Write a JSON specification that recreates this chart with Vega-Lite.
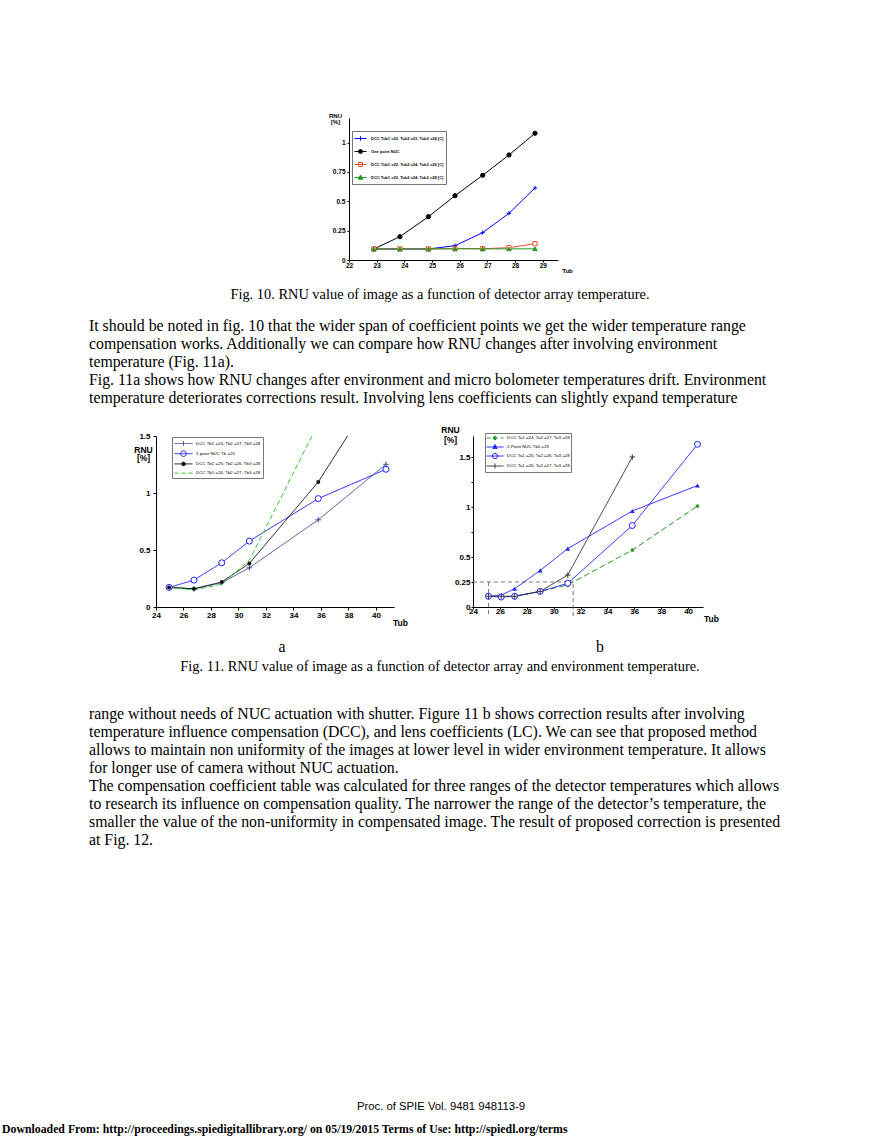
{
  "$schema": "https://vega.github.io/schema/vega-lite/v6.json",
  "background": "white",
  "padding": {"left": 2, "top": 112, "right": 0, "bottom": 0},
  "config": {
    "view": {"stroke": null},
    "axis": {"domainColor": "black", "tickColor": "black", "labelColor": "black", "titleColor": "black", "grid": false, "labelFont": "Liberation Sans", "titleFont": "Liberation Sans", "labelFontWeight": "bold", "titleFontWeight": "bold", "domainWidth": 1, "tickWidth": 1, "labelOverlap": false, "labelFlush": false}
  },
  "spacing": 0,
  "resolve": {"scale": {"color": "independent", "fill": "independent", "shape": "independent", "strokeDash": "independent", "size": "independent"}},
  "vconcat": [
    {
      "hconcat": [
        {"width": 347, "height": 1, "data": {"values": []}, "mark": {"type": "point", "opacity": 0}, "encoding": {}},
        {
          "width": 209, "height": 142,
          "data": {"values": [
            {"s": "One point NUC", "x": 22.9, "y": 0.094}, {"s": "One point NUC", "x": 23.84, "y": 0.199}, {"s": "One point NUC", "x": 24.87, "y": 0.369}, {"s": "One point NUC", "x": 25.83, "y": 0.548}, {"s": "One point NUC", "x": 26.83, "y": 0.722}, {"s": "One point NUC", "x": 27.78, "y": 0.895}, {"s": "One point NUC", "x": 28.72, "y": 1.08},
            {"s": "DCC Tub1 =22, Tub2 =23, Tub3 =24 [C]", "x": 22.9, "y": 0.094}, {"s": "DCC Tub1 =22, Tub2 =23, Tub3 =24 [C]", "x": 23.84, "y": 0.094}, {"s": "DCC Tub1 =22, Tub2 =23, Tub3 =24 [C]", "x": 24.87, "y": 0.094}, {"s": "DCC Tub1 =22, Tub2 =23, Tub3 =24 [C]", "x": 25.83, "y": 0.122}, {"s": "DCC Tub1 =22, Tub2 =23, Tub3 =24 [C]", "x": 26.83, "y": 0.233}, {"s": "DCC Tub1 =22, Tub2 =23, Tub3 =24 [C]", "x": 27.78, "y": 0.398}, {"s": "DCC Tub1 =22, Tub2 =23, Tub3 =24 [C]", "x": 28.72, "y": 0.614},
            {"s": "DCC Tub1 =22, Tub2 =24, Tub3 =26 [C]", "x": 22.9, "y": 0.094}, {"s": "DCC Tub1 =22, Tub2 =24, Tub3 =26 [C]", "x": 23.84, "y": 0.094}, {"s": "DCC Tub1 =22, Tub2 =24, Tub3 =26 [C]", "x": 24.87, "y": 0.094}, {"s": "DCC Tub1 =22, Tub2 =24, Tub3 =26 [C]", "x": 25.83, "y": 0.096}, {"s": "DCC Tub1 =22, Tub2 =24, Tub3 =26 [C]", "x": 26.83, "y": 0.096}, {"s": "DCC Tub1 =22, Tub2 =24, Tub3 =26 [C]", "x": 27.78, "y": 0.105}, {"s": "DCC Tub1 =22, Tub2 =24, Tub3 =26 [C]", "x": 28.72, "y": 0.139},
            {"s": "DCC Tub1 =22, Tub2 =24, Tub3 =28 [C]", "x": 22.9, "y": 0.094}, {"s": "DCC Tub1 =22, Tub2 =24, Tub3 =28 [C]", "x": 23.84, "y": 0.094}, {"s": "DCC Tub1 =22, Tub2 =24, Tub3 =28 [C]", "x": 24.87, "y": 0.094}, {"s": "DCC Tub1 =22, Tub2 =24, Tub3 =28 [C]", "x": 25.83, "y": 0.097}, {"s": "DCC Tub1 =22, Tub2 =24, Tub3 =28 [C]", "x": 26.83, "y": 0.095}, {"s": "DCC Tub1 =22, Tub2 =24, Tub3 =28 [C]", "x": 27.78, "y": 0.095}, {"s": "DCC Tub1 =22, Tub2 =24, Tub3 =28 [C]", "x": 28.72, "y": 0.095}
          ]},
          "layer": [
            {
              "mark": {"type": "line", "strokeWidth": 1},
              "encoding": {
                "x": {"field": "x", "type": "quantitative", "scale": {"domain": [22, 29.55], "nice": false, "zero": false},
                  "axis": {"values": [22, 23, 24, 25, 26, 27, 28, 29], "tickCount": 50, "format": "d", "labelFontSize": 6.5, "tickSize": 2, "labelPadding": 0, "title": "Tub", "titleX": 218, "titleY": 10, "titleAlign": "center", "titleBaseline": "middle", "titleFontSize": 6}},
                "y": {"field": "y", "type": "quantitative", "scale": {"domain": [0, 1.21], "nice": false},
                  "axis": {"values": [0, 0.25, 0.5, 0.75, 1], "tickCount": 50, "format": "~g", "labelFontSize": 6.5, "tickSize": 2, "labelPadding": 2, "title": ["RNU", "[%]"], "titleAngle": 0, "titleX": -14, "titleY": -3, "titleAlign": "center", "titleBaseline": "middle", "titleFontSize": 6, "titleLineHeight": 6}},
                "color": {"field": "s", "type": "nominal",
                  "scale": {"domain": ["DCC Tub1 =22, Tub2 =23, Tub3 =24 [C]", "One point NUC", "DCC Tub1 =22, Tub2 =24, Tub3 =26 [C]", "DCC Tub1 =22, Tub2 =24, Tub3 =28 [C]"], "range": ["#0000ff", "#000000", "#e8502a", "#1f9a1f"]},
                  "legend": {"title": null, "orient": "none", "legendX": 3, "legendY": 13, "strokeColor": "#777777", "fillColor": "white", "padding": 2, "symbolSize": 100, "symbolStrokeWidth": 1, "labelFont": "Liberation Sans", "labelFontWeight": "bold", "labelFontSize": 4, "labelOffset": 6, "rowPadding": 3, "labelLimit": 300,
                    "encode": {"symbols": {"update": {
                      "shape": {"signal": "['M-1,0L1.4,0M0.2,-0.45L0.2,0.45','M-1,0L1.4,0M-0.2,0A0.4,0.4,0,1,1,0.6,0A0.4,0.4,0,1,1,-0.2,0','M-1,0L1.4,0M-0.2,-0.4L0.6,-0.4L0.6,0.4L-0.2,0.4Z','M-1,0L1.4,0M0.2,-0.5L0.65,0.35L-0.25,0.35Z'][indexof(['DCC Tub1 =22, Tub2 =23, Tub3 =24 [C]','One point NUC','DCC Tub1 =22, Tub2 =24, Tub3 =26 [C]','DCC Tub1 =22, Tub2 =24, Tub3 =28 [C]'], datum.value)]"},
                      "fill": {"signal": "['white','#000000','white','#1f9a1f'][indexof(['DCC Tub1 =22, Tub2 =23, Tub3 =24 [C]','One point NUC','DCC Tub1 =22, Tub2 =24, Tub3 =26 [C]','DCC Tub1 =22, Tub2 =24, Tub3 =28 [C]'], datum.value)]"}
                    }}}}
                }
              }
            },
            {
              "mark": {"type": "point", "filled": false, "strokeWidth": 1, "opacity": 1, "size": 18},
              "encoding": {
                "x": {"field": "x", "type": "quantitative"},
                "y": {"field": "y", "type": "quantitative"},
                "color": {"field": "s", "type": "nominal"},
                "shape": {"field": "s", "type": "nominal", "legend": null,
                  "scale": {"domain": ["DCC Tub1 =22, Tub2 =24, Tub3 =28 [C]", "DCC Tub1 =22, Tub2 =24, Tub3 =26 [C]", "One point NUC", "DCC Tub1 =22, Tub2 =23, Tub3 =24 [C]"], "range": ["triangle-up", "square", "circle", "M-1,0L1,0M0,-1L0,1"]}},
                "fill": {"field": "s", "type": "nominal", "legend": null,
                  "scale": {"domain": ["DCC Tub1 =22, Tub2 =24, Tub3 =28 [C]", "DCC Tub1 =22, Tub2 =24, Tub3 =26 [C]", "One point NUC", "DCC Tub1 =22, Tub2 =23, Tub3 =24 [C]"], "range": ["#1f9a1f", "white", "#000000", "#0000ff"]}}
              }
            }
          ]
        }
      ],
      "spacing": 0, "bounds": "flush",
      "resolve": {"scale": {"color": "independent", "fill": "independent", "shape": "independent", "strokeDash": "independent", "size": "independent"}}
    },
    {
      "hconcat": [
        {"width": 87, "height": 1, "data": {"values": []}, "mark": {"type": "point", "opacity": 0}, "encoding": {}},
        {"width": 702, "height": 44,
          "data": {"values": [{"text": "Fig. 10. RNU value of image as a function of detector array temperature."}]},
          "mark": {"type": "text", "font": "Liberation Serif", "fontSize": 14.4, "color": "black"},
          "encoding": {"text": {"field": "text"}}}
      ],
      "spacing": 0, "bounds": "flush"
    },
    {
      "hconcat": [
        {"width": 87, "height": 1, "data": {"values": []}, "mark": {"type": "point", "opacity": 0}, "encoding": {}},
        {"width": 702, "height": 90,
          "data": {"values": [
            {"line": 1, "text": "It should be noted in fig. 10 that the wider span of coefficient points we get the wider temperature range"},
            {"line": 2, "text": "compensation works. Additionally we can compare how RNU changes after involving environment"},
            {"line": 3, "text": "temperature (Fig. 11a)."},
            {"line": 4, "text": "Fig. 11a shows how RNU changes after environment and micro bolometer temperatures drift. Environment"},
            {"line": 5, "text": "temperature deteriorates corrections result. Involving lens coefficients can slightly expand temperature"}
          ]},
          "mark": {"type": "text", "align": "left", "baseline": "middle", "font": "Liberation Serif", "fontSize": 15.8, "color": "black"},
          "encoding": {
            "x": {"datum": 0, "type": "quantitative", "scale": {"domain": [0, 1]}, "axis": null},
            "y": {"field": "line", "type": "ordinal", "axis": null, "scale": {"type": "point", "padding": 0.5, "align": 0.5}},
            "text": {"field": "text"}
          }}
      ],
      "spacing": 0, "bounds": "flush"
    },
    {"width": 1, "height": 18, "data": {"values": []}, "mark": {"type": "point", "opacity": 0}, "encoding": {}},
    {
      "hconcat": [
        {"width": 154, "height": 1, "data": {"values": []}, "mark": {"type": "point", "opacity": 0}, "encoding": {}},
        {
          "width": 238, "height": 171,
          "title": {"text": "a", "orient": "bottom", "anchor": "middle", "frame": "group", "dx": 7, "offset": 13.3, "font": "Liberation Serif", "fontSize": 15.8, "fontWeight": "normal", "color": "black"},
          "data": {"values": [
            {"s": "DCC Tb1 =24, Tb2 =27, Tb3 =28", "x": 24.95, "y": 0.172}, {"s": "DCC Tb1 =24, Tb2 =27, Tb3 =28", "x": 26.76, "y": 0.158}, {"s": "DCC Tb1 =24, Tb2 =27, Tb3 =28", "x": 28.78, "y": 0.213}, {"s": "DCC Tb1 =24, Tb2 =27, Tb3 =28", "x": 30.79, "y": 0.344}, {"s": "DCC Tb1 =24, Tb2 =27, Tb3 =28", "x": 35.8, "y": 0.765}, {"s": "DCC Tb1 =24, Tb2 =27, Tb3 =28", "x": 40.73, "y": 1.252},
            {"s": "2 point NUC Tb =25", "x": 24.95, "y": 0.172}, {"s": "2 point NUC Tb =25", "x": 26.76, "y": 0.236}, {"s": "2 point NUC Tb =25", "x": 28.78, "y": 0.388}, {"s": "2 point NUC Tb =25", "x": 30.79, "y": 0.578}, {"s": "2 point NUC Tb =25", "x": 35.8, "y": 0.951}, {"s": "2 point NUC Tb =25", "x": 40.73, "y": 1.208},
            {"s": "DCC Tb1 =25, Tb2 =26, Tb3 =28", "x": 24.95, "y": 0.172}, {"s": "DCC Tb1 =25, Tb2 =26, Tb3 =28", "x": 26.76, "y": 0.16}, {"s": "DCC Tb1 =25, Tb2 =26, Tb3 =28", "x": 28.78, "y": 0.219}, {"s": "DCC Tb1 =25, Tb2 =26, Tb3 =28", "x": 30.79, "y": 0.382}, {"s": "DCC Tb1 =25, Tb2 =26, Tb3 =28", "x": 35.8, "y": 1.097}, {"s": "DCC Tb1 =25, Tb2 =26, Tb3 =28", "x": 40.73, "y": 2.03},
            {"s": "DCC Tb1 =26, Tb2 =27, Tb3 =28", "x": 24.95, "y": 0.172}, {"s": "DCC Tb1 =26, Tb2 =27, Tb3 =28", "x": 26.76, "y": 0.149}, {"s": "DCC Tb1 =26, Tb2 =27, Tb3 =28", "x": 28.78, "y": 0.2}, {"s": "DCC Tb1 =26, Tb2 =27, Tb3 =28", "x": 30.79, "y": 0.41}, {"s": "DCC Tb1 =26, Tb2 =27, Tb3 =28", "x": 35.8, "y": 1.61}
          ]},
          "layer": [
            {
              "mark": {"type": "line", "strokeWidth": 1, "clip": true},
              "encoding": {
                "x": {"field": "x", "type": "quantitative", "scale": {"domain": [24, 41.31], "nice": false, "zero": false},
                  "axis": {"values": [24, 26, 28, 30, 32, 34, 36, 38, 40], "tickCount": 50, "format": "d", "labelFontSize": 8, "tickSize": 3, "labelPadding": 1, "title": "Tub", "titleX": 244, "titleY": 15, "titleAlign": "center", "titleBaseline": "middle", "titleFontSize": 8.5}},
                "y": {"field": "y", "type": "quantitative", "scale": {"domain": [0, 1.5], "nice": false},
                  "axis": {"values": [0, 0.5, 1, 1.5], "tickCount": 50, "format": "~g", "labelFontSize": 8, "tickSize": 3, "labelPadding": 3, "title": ["RNU", "[%]"], "titleAngle": 0, "titleX": -13, "titleY": 13, "titleAlign": "center", "titleBaseline": "middle", "titleFontSize": 8.5, "titleLineHeight": 8.5}},
                "color": {"field": "s", "type": "nominal",
                  "scale": {"domain": ["DCC Tb1 =24, Tb2 =27, Tb3 =28", "2 point NUC Tb =25", "DCC Tb1 =25, Tb2 =26, Tb3 =28", "DCC Tb1 =26, Tb2 =27, Tb3 =28"], "range": ["#42509c", "#1f1fff", "#111111", "#2fd12f"]},
                  "legend": {"title": null, "orient": "none", "legendX": 16, "legendY": 1, "strokeColor": "#777777", "fillColor": "white", "padding": 2, "symbolSize": 64, "symbolStrokeWidth": 1, "labelFont": "Liberation Sans", "labelFontSize": 4.4, "labelOffset": 13, "rowPadding": 0.2, "labelLimit": 300,
                    "encode": {"symbols": {"update": {
                      "shape": {"signal": "['M-1,0L3.5,0M1.25,-0.6L1.25,0.6','M-1,0L3.5,0M0.55,0A0.7,0.7,0,1,1,1.95,0A0.7,0.7,0,1,1,0.55,0','M-1,0L3.5,0M0.8,0A0.45,0.45,0,1,1,1.7,0A0.45,0.45,0,1,1,0.8,0','M-1,0L3.5,0'][indexof(['DCC Tb1 =24, Tb2 =27, Tb3 =28','2 point NUC Tb =25','DCC Tb1 =25, Tb2 =26, Tb3 =28','DCC Tb1 =26, Tb2 =27, Tb3 =28'], datum.value)]"},
                      "fill": {"signal": "['white','white','#111111','white'][indexof(['DCC Tb1 =24, Tb2 =27, Tb3 =28','2 point NUC Tb =25','DCC Tb1 =25, Tb2 =26, Tb3 =28','DCC Tb1 =26, Tb2 =27, Tb3 =28'], datum.value)]"},
                      "strokeDash": {"signal": "[[1,0],[1,0],[1,0],[4,3]][indexof(['DCC Tb1 =24, Tb2 =27, Tb3 =28','2 point NUC Tb =25','DCC Tb1 =25, Tb2 =26, Tb3 =28','DCC Tb1 =26, Tb2 =27, Tb3 =28'], datum.value)]"}
                    }}}}
                },
                "strokeDash": {"field": "s", "type": "nominal", "legend": null,
                  "scale": {"domain": ["DCC Tb1 =26, Tb2 =27, Tb3 =28", "DCC Tb1 =25, Tb2 =26, Tb3 =28", "2 point NUC Tb =25", "DCC Tb1 =24, Tb2 =27, Tb3 =28"], "range": [[5, 3], [1, 0], [1, 0], [1, 0]]}}
              }
            },
            {
              "transform": [{"filter": "datum.s === 'DCC Tb1 =24, Tb2 =27, Tb3 =28'"}],
              "mark": {"type": "point", "shape": "M-1,0L1,0M0,-1L0,1", "filled": false, "stroke": "#42509c", "strokeWidth": 1, "opacity": 1, "size": 30, "clip": true},
              "encoding": {"x": {"field": "x", "type": "quantitative"}, "y": {"field": "y", "type": "quantitative"}}
            },
            {
              "transform": [{"filter": "datum.s === '2 point NUC Tb =25'"}],
              "mark": {"type": "point", "shape": "circle", "filled": false, "fill": "white", "stroke": "#1f1fff", "strokeWidth": 1, "opacity": 1, "size": 36, "clip": true},
              "encoding": {"x": {"field": "x", "type": "quantitative"}, "y": {"field": "y", "type": "quantitative"}}
            },
            {
              "transform": [{"filter": "datum.s === 'DCC Tb1 =25, Tb2 =26, Tb3 =28'"}],
              "mark": {"type": "point", "shape": "circle", "filled": true, "color": "#111111", "opacity": 1, "size": 16, "clip": true},
              "encoding": {"x": {"field": "x", "type": "quantitative"}, "y": {"field": "y", "type": "quantitative"}}
            }
          ]
        },
        {"width": 79, "height": 1, "data": {"values": []}, "mark": {"type": "point", "opacity": 0}, "encoding": {}},
        {
          "width": 230, "height": 171,
          "title": {"text": "b", "orient": "bottom", "anchor": "middle", "frame": "group", "dx": 12, "offset": 17.3, "font": "Liberation Serif", "fontSize": 15.8, "fontWeight": "normal", "color": "black"},
          "data": {"values": [
            {"s": "DCC Ta1 =24, Ta2 =27, Ta3 =28", "x": 25.15, "y": 0.107}, {"s": "DCC Ta1 =24, Ta2 =27, Ta3 =28", "x": 26.1, "y": 0.107}, {"s": "DCC Ta1 =24, Ta2 =27, Ta3 =28", "x": 27.1, "y": 0.107}, {"s": "DCC Ta1 =24, Ta2 =27, Ta3 =28", "x": 29.0, "y": 0.156}, {"s": "DCC Ta1 =24, Ta2 =27, Ta3 =28", "x": 31.05, "y": 0.221}, {"s": "DCC Ta1 =24, Ta2 =27, Ta3 =28", "x": 35.85, "y": 0.569}, {"s": "DCC Ta1 =24, Ta2 =27, Ta3 =28", "x": 40.7, "y": 1.01},
            {"s": "2-Point NUC Tb0 =25", "x": 25.15, "y": 0.107}, {"s": "2-Point NUC Tb0 =25", "x": 26.1, "y": 0.118}, {"s": "2-Point NUC Tb0 =25", "x": 27.1, "y": 0.183}, {"s": "2-Point NUC Tb0 =25", "x": 29.0, "y": 0.366}, {"s": "2-Point NUC Tb0 =25", "x": 31.05, "y": 0.584}, {"s": "2-Point NUC Tb0 =25", "x": 35.85, "y": 0.96}, {"s": "2-Point NUC Tb0 =25", "x": 40.7, "y": 1.215},
            {"s": "DCC Ta1 =25, Ta2 =26, Ta3 =28", "x": 25.15, "y": 0.107}, {"s": "DCC Ta1 =25, Ta2 =26, Ta3 =28", "x": 26.1, "y": 0.1}, {"s": "DCC Ta1 =25, Ta2 =26, Ta3 =28", "x": 27.1, "y": 0.107}, {"s": "DCC Ta1 =25, Ta2 =26, Ta3 =28", "x": 29.0, "y": 0.156}, {"s": "DCC Ta1 =25, Ta2 =26, Ta3 =28", "x": 31.05, "y": 0.237}, {"s": "DCC Ta1 =25, Ta2 =26, Ta3 =28", "x": 35.85, "y": 0.815}, {"s": "DCC Ta1 =25, Ta2 =26, Ta3 =28", "x": 40.7, "y": 1.627},
            {"s": "DCC Ta1 =26, Ta2 =27, Ta3 =28", "x": 25.15, "y": 0.107}, {"s": "DCC Ta1 =26, Ta2 =27, Ta3 =28", "x": 26.1, "y": 0.107}, {"s": "DCC Ta1 =26, Ta2 =27, Ta3 =28", "x": 27.1, "y": 0.107}, {"s": "DCC Ta1 =26, Ta2 =27, Ta3 =28", "x": 29.0, "y": 0.156}, {"s": "DCC Ta1 =26, Ta2 =27, Ta3 =28", "x": 31.05, "y": 0.32}, {"s": "DCC Ta1 =26, Ta2 =27, Ta3 =28", "x": 35.85, "y": 1.5}
          ]},
          "layer": [
            {
              "data": {"values": [
                {"x": 24, "x2": 31.45, "y": 0.25, "y2": 0.25},
                {"x": 25.15, "x2": 25.15, "y": -0.07, "y2": 0.25},
                {"x": 31.45, "x2": 31.45, "y": -0.09, "y2": 0.25}
              ]},
              "mark": {"type": "rule", "strokeDash": [4, 3], "color": "#555555", "strokeWidth": 0.8},
              "encoding": {
                "x": {"field": "x", "type": "quantitative", "scale": {"domain": [24, 41.11], "nice": false, "zero": false},
                  "axis": {"values": [24, 26, 28, 30, 32, 34, 36, 38, 40], "tickCount": 50, "format": "d", "labelFontSize": 8, "tickSize": 2, "labelPadding": -2, "title": "Tub", "titleX": 238, "titleY": 11, "titleAlign": "center", "titleBaseline": "middle", "titleFontSize": 8.5}},
                "x2": {"field": "x2"},
                "y": {"field": "y", "type": "quantitative", "scale": {"domain": [0, 1.71], "nice": false},
                  "axis": {"values": [0, 0.25, 0.5, 0.75, 1, 1.25, 1.5], "tickCount": 50, "format": "~g", "labelExpr": "datum.value == 0.75 || datum.value == 1.25 ? '' : datum.label", "labelFontSize": 8, "tickSize": 2, "labelPadding": 1, "title": ["RNU", "[%]"], "titleAngle": 0, "titleX": -23, "titleY": -7, "titleAlign": "center", "titleBaseline": "middle", "titleFontSize": 8.5, "titleLineHeight": 10}},
                "y2": {"field": "y2"}
              }
            },
            {
              "mark": {"type": "line", "strokeWidth": 1},
              "encoding": {
                "x": {"field": "x", "type": "quantitative"},
                "y": {"field": "y", "type": "quantitative"},
                "color": {"field": "s", "type": "nominal",
                  "scale": {"domain": ["DCC Ta1 =24, Ta2 =27, Ta3 =28", "2-Point NUC Tb0 =25", "DCC Ta1 =25, Ta2 =26, Ta3 =28", "DCC Ta1 =26, Ta2 =27, Ta3 =28"], "range": ["#2a9a2a", "#1f1fff", "#1f1fff", "#333333"]},
                  "legend": {"title": null, "orient": "none", "legendX": 12, "legendY": -3, "strokeColor": "#777777", "fillColor": "white", "padding": 1, "symbolSize": 49, "symbolStrokeWidth": 1, "labelFont": "Liberation Sans", "labelFontSize": 4.4, "labelOffset": 13, "rowPadding": 0, "labelLimit": 300,
                    "encode": {"symbols": {"update": {
                      "shape": {"signal": "['M-1,0L3.86,0M0.93,0A0.5,0.5,0,1,1,1.93,0A0.5,0.5,0,1,1,0.93,0','M-1,0L3.86,0M1.43,-0.7L2.05,0.45L0.81,0.45Z','M-1,0L3.86,0M0.68,0A0.75,0.75,0,1,1,2.18,0A0.75,0.75,0,1,1,0.68,0','M-1,0L3.86,0M1.43,-0.7L1.43,0.7'][indexof(['DCC Ta1 =24, Ta2 =27, Ta3 =28','2-Point NUC Tb0 =25','DCC Ta1 =25, Ta2 =26, Ta3 =28','DCC Ta1 =26, Ta2 =27, Ta3 =28'], datum.value)]"},
                      "fill": {"signal": "['#2a9a2a','#1f1fff','white','white'][indexof(['DCC Ta1 =24, Ta2 =27, Ta3 =28','2-Point NUC Tb0 =25','DCC Ta1 =25, Ta2 =26, Ta3 =28','DCC Ta1 =26, Ta2 =27, Ta3 =28'], datum.value)]"},
                      "strokeDash": {"signal": "[[4,3],[1,0],[1,0],[1,0]][indexof(['DCC Ta1 =24, Ta2 =27, Ta3 =28','2-Point NUC Tb0 =25','DCC Ta1 =25, Ta2 =26, Ta3 =28','DCC Ta1 =26, Ta2 =27, Ta3 =28'], datum.value)]"}
                    }}}}
                },
                "strokeDash": {"field": "s", "type": "nominal", "legend": null,
                  "scale": {"domain": ["DCC Ta1 =26, Ta2 =27, Ta3 =28", "DCC Ta1 =25, Ta2 =26, Ta3 =28", "2-Point NUC Tb0 =25", "DCC Ta1 =24, Ta2 =27, Ta3 =28"], "range": [[1, 0], [1, 0], [1, 0], [6, 3]]}}
              }
            },
            {
              "transform": [{"filter": "datum.s === 'DCC Ta1 =24, Ta2 =27, Ta3 =28'"}],
              "mark": {"type": "point", "shape": "circle", "filled": true, "color": "#2a9a2a", "opacity": 1, "size": 14},
              "encoding": {"x": {"field": "x", "type": "quantitative"}, "y": {"field": "y", "type": "quantitative"}}
            },
            {
              "transform": [{"filter": "datum.s === '2-Point NUC Tb0 =25'"}],
              "mark": {"type": "point", "shape": "triangle-up", "filled": true, "color": "#1f1fff", "opacity": 1, "size": 22},
              "encoding": {"x": {"field": "x", "type": "quantitative"}, "y": {"field": "y", "type": "quantitative"}}
            },
            {
              "transform": [{"filter": "datum.s === 'DCC Ta1 =25, Ta2 =26, Ta3 =28'"}],
              "mark": {"type": "point", "shape": "circle", "filled": false, "fill": "white", "stroke": "#1f1fff", "strokeWidth": 1, "opacity": 1, "size": 36},
              "encoding": {"x": {"field": "x", "type": "quantitative"}, "y": {"field": "y", "type": "quantitative"}}
            },
            {
              "transform": [{"filter": "datum.s === 'DCC Ta1 =26, Ta2 =27, Ta3 =28'"}],
              "mark": {"type": "point", "shape": "M-1,0L1,0M0,-1L0,1", "filled": false, "stroke": "#333333", "strokeWidth": 1, "opacity": 1, "size": 30},
              "encoding": {"x": {"field": "x", "type": "quantitative"}, "y": {"field": "y", "type": "quantitative"}}
            }
          ]
        }
      ],
      "spacing": 0, "bounds": "flush",
      "resolve": {"scale": {"color": "independent", "fill": "independent", "shape": "independent", "strokeDash": "independent", "size": "independent"}}
    },
    {
      "hconcat": [
        {"width": 87, "height": 1, "data": {"values": []}, "mark": {"type": "point", "opacity": 0}, "encoding": {}},
        {"width": 702, "height": 24,
          "data": {"values": [{"text": "Fig. 11. RNU value of image as a function of detector array and environment temperature."}]},
          "mark": {"type": "text", "font": "Liberation Serif", "fontSize": 14.4, "color": "black"},
          "encoding": {"text": {"field": "text"}}}
      ],
      "spacing": 0, "bounds": "flush"
    },
    {"width": 1, "height": 26, "data": {"values": []}, "mark": {"type": "point", "opacity": 0}, "encoding": {}},
    {
      "hconcat": [
        {"width": 87, "height": 1, "data": {"values": []}, "mark": {"type": "point", "opacity": 0}, "encoding": {}},
        {"width": 702, "height": 144,
          "data": {"values": [
            {"line": 1, "text": "range without needs of NUC actuation with shutter.  Figure 11 b shows correction results after involving"},
            {"line": 2, "text": "temperature influence compensation (DCC), and lens coefficients (LC). We can see that proposed method"},
            {"line": 3, "text": "allows to maintain non uniformity of the images at lower level in wider environment temperature. It allows"},
            {"line": 4, "text": "for longer use of camera without NUC actuation."},
            {"line": 5, "text": "The compensation coefficient table was calculated for three ranges of the detector temperatures which allows"},
            {"line": 6, "text": "to research its influence on compensation quality. The narrower the range of the detector’s temperature, the"},
            {"line": 7, "text": "smaller the value of the non-uniformity in compensated image. The result of proposed correction is presented"},
            {"line": 8, "text": "at Fig. 12."}
          ]},
          "mark": {"type": "text", "align": "left", "baseline": "middle", "font": "Liberation Serif", "fontSize": 15.8, "color": "black"},
          "encoding": {
            "x": {"datum": 0, "type": "quantitative", "scale": {"domain": [0, 1]}, "axis": null},
            "y": {"field": "line", "type": "ordinal", "axis": null, "scale": {"type": "point", "padding": 0.5, "align": 0.5}},
            "text": {"field": "text"}
          }}
      ],
      "spacing": 0, "bounds": "flush"
    },
    {"width": 1, "height": 247, "data": {"values": []}, "mark": {"type": "point", "opacity": 0}, "encoding": {}},
    {
      "width": 878, "height": 22,
      "data": {"values": [{"text": "Proc. of SPIE Vol. 9481  948113-9"}]},
      "mark": {"type": "text", "font": "Liberation Sans", "fontSize": 11.3, "color": "black"},
      "encoding": {"text": {"field": "text"}}
    },
    {
      "width": 878, "height": 22,
      "data": {"values": [{"text": "Downloaded From: http://proceedings.spiedigitallibrary.org/ on 05/19/2015 Terms of Use: http://spiedl.org/terms"}]},
      "mark": {"type": "text", "align": "left", "font": "Liberation Serif", "fontWeight": "bold", "fontSize": 11.8, "color": "black"},
      "encoding": {
        "x": {"datum": 0, "type": "quantitative", "scale": {"domain": [0, 1]}, "axis": null},
        "text": {"field": "text"}
      }
    }
  ]
}
